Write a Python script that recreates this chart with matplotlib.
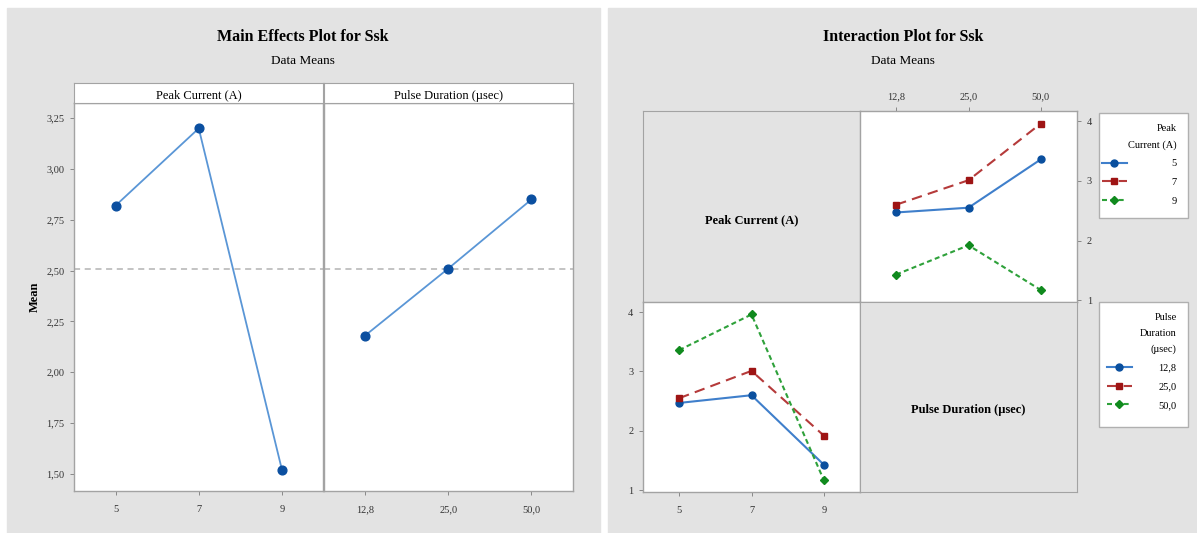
import matplotlib
matplotlib.use("Agg")
import matplotlib.pyplot as plt
from matplotlib.patches import Rectangle
from matplotlib.lines import Line2D
from matplotlib.ticker import FuncFormatter

# ---------------- data ----------------
pc_levels = ["5", "7", "9"]                 # Peak Current (A)
pd_levels = ["12,8", "25,0", "50,0"]        # Pulse Duration (µsec)

pc_means = [2.82, 3.20, 1.52]               # main effect of peak current
pd_means = [2.18, 2.51, 2.85]               # main effect of pulse duration
grand_mean = 2.51

# cell means: one list per peak current, ordered by pulse duration
ssk_pc5 = [2.47, 2.55, 3.36]
ssk_pc7 = [2.60, 3.01, 3.96]
ssk_pc9 = [1.43, 1.92, 1.17]

# ---------------- styling ----------------
plt.rcParams["font.family"] = ["Liberation Serif", "DejaVu Serif"]
W, H = 1197, 533
BG = "#e3e3e3"
FRAME = "#a3a3a3"
TICKC = "#333333"

series_style = [
    dict(color="#3f7fcb", ls="-", marker="o", mfc="#0a4f9e", mec="#0a4f9e", ms=5),
    dict(color="#b53a3a", ls=(0, (5, 3)), marker="s", mfc="#9e1414", mec="#9e1414", ms=4.5),
    dict(color="#2ea13a", ls=(0, (2.4, 1.6)), marker="D", mfc="#108a1e", mec="#108a1e", ms=4.3),
]


def frac(x0, y0, x1, y1):
    return [x0 / W, 1 - y1 / H, (x1 - x0) / W, (y1 - y0) / H]


def comma(v, _pos=None):
    return f"{v:.2f}".replace(".", ",")


def style_axes(ax):
    for s in ax.spines.values():
        s.set_color(FRAME)
        s.set_linewidth(1.0)
    ax.tick_params(direction="out", length=3, width=0.7, color="#888888",
                   labelsize=7.5, labelcolor=TICKC, pad=4)


fig = plt.figure(figsize=(W / 100, H / 100), dpi=100)
fig.patch.set_facecolor("white")

# grey backgrounds of the two plot windows
fig.patches.append(Rectangle((7 / W, 0), (600 - 7) / W, 1 - 8 / H,
                             transform=fig.transFigure, color=BG, zorder=-5))
fig.patches.append(Rectangle((608 / W, 0), (W - 608) / W, 1 - 8 / H,
                             transform=fig.transFigure, color=BG, zorder=-5))

# ================= Main effects plot =================
fig.text(303 / W, 1 - 37 / H, "Main Effects Plot for Ssk", ha="center", va="center",
         fontsize=11.5, fontweight="bold")
fig.text(303 / W, 1 - 61 / H, "Data Means", ha="center", va="center", fontsize=9.5)
fig.text(35 / W, 1 - 297 / H, "Mean", ha="center", va="center", rotation=90,
         fontsize=9, fontweight="bold")

axL = fig.add_axes(frac(74, 103, 323.5, 491))
axR = fig.add_axes(frac(323.5, 103, 573, 491), sharey=axL)

for ax, levels, means, title, x0, x1 in [
        (axL, pc_levels, pc_means, "Peak Current (A)", 74, 323.5),
        (axR, pd_levels, pd_means, "Pulse Duration (µsec)", 323.5, 573)]:
    style_axes(ax)
    ax.axhline(grand_mean, color="#b3b3b3", lw=1.1, ls=(0, (4, 3)), zorder=1)
    ax.plot(range(len(levels)), means, color="#5a96d6", lw=1.3, marker="o", ms=6.3,
            mfc="#0b4fa0", mec="#0b4fa0", zorder=3)
    ax.set_xticks(range(len(levels)))
    ax.set_xticklabels(levels)
    ax.set_xlim(-0.5, 2.5)
    ax.tick_params(axis="x", pad=7)
    strip = fig.add_axes(frac(x0, 83, x1, 103))
    strip.set_facecolor("white")
    strip.set_xticks([])
    strip.set_yticks([])
    for s in strip.spines.values():
        s.set_color(FRAME)
    strip.text(0.5, 0.45, title, ha="center", va="center_baseline", fontsize=9,
               transform=strip.transAxes)

axL.set_ylim(1.415, 3.325)
axL.set_yticks([1.50, 1.75, 2.00, 2.25, 2.50, 2.75, 3.00, 3.25])
axL.yaxis.set_major_formatter(FuncFormatter(comma))
axR.tick_params(axis="y", left=False, labelleft=False)

# ================= Interaction plot =================
fig.text(903 / W, 1 - 37 / H, "Interaction Plot for Ssk", ha="center", va="center",
         fontsize=11.5, fontweight="bold")
fig.text(903 / W, 1 - 61 / H, "Data Means", ha="center", va="center", fontsize=9.5)

cells = [ssk_pc5, ssk_pc7, ssk_pc9]
ylim_int = (0.97, 4.17)

ax_ul = fig.add_axes(frac(643, 111, 860, 302))
ax_ur = fig.add_axes(frac(860, 111, 1077, 302))
ax_ll = fig.add_axes(frac(643, 302, 860, 492))
ax_lr = fig.add_axes(frac(860, 302, 1077, 492))

for ax, label in [(ax_ul, "Peak Current (A)"), (ax_lr, "Pulse Duration (µsec)")]:
    ax.set_facecolor(BG)
    ax.set_xticks([])
    ax.set_yticks([])
    for s in ax.spines.values():
        s.set_color(FRAME)
    ax.text(0.5, 0.43, label, ha="center", va="center", fontsize=9,
            fontweight="bold", transform=ax.transAxes)

# upper right: response vs pulse duration, one line per peak current
style_axes(ax_ur)
for vals, st in zip(cells, series_style):
    ax_ur.plot(range(len(pd_levels)), vals, lw=1.5, **st)
ax_ur.set_xlim(-0.5, 2.5)
ax_ur.set_ylim(*ylim_int)
ax_ur.set_xticks(range(len(pd_levels)))
ax_ur.set_xticklabels(pd_levels)
ax_ur.set_yticks([1, 2, 3, 4])
ax_ur.xaxis.tick_top()
ax_ur.yaxis.tick_right()

# lower left: response vs peak current, one line per pulse duration
style_axes(ax_ll)
for j, st in enumerate(series_style):
    ax_ll.plot(range(len(pc_levels)), [row[j] for row in cells], lw=1.5, **st)
ax_ll.set_xlim(-0.5, 2.5)
ax_ll.set_ylim(*ylim_int)
ax_ll.set_xticks(range(len(pc_levels)))
ax_ll.set_xticklabels(pc_levels)
ax_ll.set_yticks([1, 2, 3, 4])
ax_ll.tick_params(axis="x", pad=7)


def legend_box(x0, y0, x1, y1, labels, title, textpad):
    fig.patches.append(Rectangle((x0 / W, 1 - y1 / H), (x1 - x0) / W, (y1 - y0) / H,
                                 transform=fig.transFigure, facecolor="white",
                                 edgecolor="#b0b0b0", lw=1.0, zorder=1))
    handles = [Line2D([], [], lw=1.5, **st) for st in series_style]
    leg = fig.legend(handles, labels, loc="upper right",
                     bbox_to_anchor=((x1 - 4) / W, 1 - (y0 + 4) / H),
                     frameon=False, title=title, alignment="right", fontsize=7.5,
                     title_fontsize=7.5, handlelength=2.4, handletextpad=textpad,
                     labelspacing=0.9, borderpad=0.2)
    leg.get_title().set_multialignment("right")
    leg.get_title().set_linespacing(1.9)
    leg.set_zorder(2)
    return leg


legend_box(1099, 113, 1188, 218, pc_levels, "Peak\nCurrent (A)", 4.3)
legend_box(1099, 302, 1188, 427, pd_levels, "Pulse\nDuration\n(µsec)", 2.6)

fig.savefig("out.png", dpi=100)
